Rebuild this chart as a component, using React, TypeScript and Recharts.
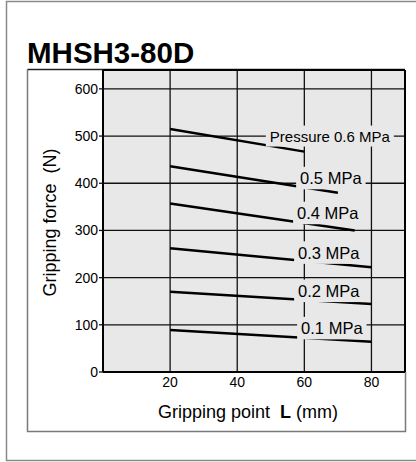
import React from 'react';
import { LineChart, Line, XAxis, YAxis, CartesianGrid, ReferenceDot, ReferenceLine } from 'recharts';

const title = 'MHSH3-80D';
const xTicks = [20, 40, 60, 80];
const yTicks = [0, 100, 200, 300, 400, 500, 600];

const pressureLabels = ['Pressure 0.6 MPa', '0.5 MPa', '0.4 MPa', '0.3 MPa', '0.2 MPa', '0.1 MPa'];
const pointStart = [20, 20, 20, 20, 20, 20];
const pointEnd = [60, 70, 75, 80, 80, 80];
const forceStart = [515, 436, 357, 262, 170, 89];
const forceEnd = [467, 380, 300, 222, 144, 64];
const labelPoint = [67.6, 67.9, 67.0, 67.3, 67.3, 68.2];
const labelForce = [500, 411, 337, 253, 172, 93];

const FONT = '"Liberation Sans", Arial, Helvetica, sans-serif';
const PLOT_BG = '#e8e8e8';

const seriesData = pressureLabels.map((_, i) => [
  { L: pointStart[i], F: forceStart[i] },
  { L: pointEnd[i], F: forceEnd[i] },
]);

const charW: Record<string, number> = {
  '0': 0.556, '1': 0.556, '2': 0.556, '3': 0.556, '4': 0.556, '5': 0.556, '6': 0.556,
  '7': 0.556, '8': 0.556, '9': 0.556, '.': 0.278, ' ': 0.278, M: 0.833, P: 0.667,
  a: 0.556, r: 0.333, e: 0.556, s: 0.5, u: 0.556,
};
const textWidth = (t: string, fs: number) =>
  t.split('').reduce((s, c) => s + (charW[c] ?? 0.556), 0) * fs;

const labelFs = (t: string) => (t.startsWith('Pressure') ? 15 : 16.5);

const makeRect = (text: string) => (props: any) => {
  const { cx, cy } = props;
  const fs = labelFs(text);
  const w = textWidth(text, fs) + 8;
  const h = fs + 6;
  return <rect x={cx - w / 2} y={cy - h / 2} width={w} height={h} fill={PLOT_BG} />;
};

const makeText = (text: string) => (props: any) => {
  const { cx, cy } = props;
  const fs = labelFs(text);
  return (
    <text x={cx} y={cy} textAnchor="middle" dominantBaseline="central" fontSize={fs} fontFamily={FONT} fill="#000">
      {text}
    </text>
  );
};

const YLabel = (props: any) => {
  const vb = props.viewBox || { x: 43, y: 70, width: 60, height: 302 };
  const x = vb.x + 7;
  const y = vb.y + vb.height / 2 + 1.5;
  return (
    <text
      x={x}
      y={y}
      transform={`rotate(-90 ${x} ${y})`}
      textAnchor="middle"
      dominantBaseline="central"
      fontSize={18}
      fontFamily={FONT}
      fill="#000"
      style={{ whiteSpace: 'pre' }}
    >
      {'Gripping force  (N)'}
    </text>
  );
};

const XLabel = (props: any) => {
  const vb = props.viewBox || { x: 103, y: 372, width: 302, height: 40 };
  const x = vb.x + vb.width / 2 - 6;
  const y = vb.y + 46;
  return (
    <text x={x} y={y} textAnchor="middle" fontSize={18} fontFamily={FONT} fill="#000" style={{ whiteSpace: 'pre' }}>
      <tspan>{'Gripping point  '}</tspan>
      <tspan fontWeight="bold">L</tspan>
      <tspan>{' (mm)'}</tspan>
    </text>
  );
};

export default function App() {
  return (
    <div style={{ position: 'fixed', left: 0, top: 0, width: 416, height: 462, background: '#fff', overflow: 'hidden' }}>
      <svg width={416} height={462} style={{ position: 'absolute', left: 0, top: 0 }}>
        <path d="M 420 1.5 L 6.5 1.5 L 6.5 460.5 L 420 460.5" fill="none" stroke="#8a8a8a" strokeWidth={1.5} />
        <path d="M 405.5 372 L 405.5 431.5 L 27.5 431.5 L 27.5 69.5" fill="none" stroke="#7a7a7a" strokeWidth={1.5} />
        <line x1={27.5} y1={69.5} x2={405} y2={69.5} stroke="#222" strokeWidth={1.5} />
        <text x={27} y={63} fontSize={29.5} fontWeight="bold" fontFamily={FONT} fill="#000">
          {title}
        </text>
      </svg>
      <div style={{ position: 'absolute', left: 0, top: 0 }}>
        <LineChart width={416} height={462} margin={{ top: 70, right: 11, bottom: 50, left: 43 }}>
          <CartesianGrid stroke="#111" strokeWidth={1.3} fill={PLOT_BG} fillOpacity={1} />
          <XAxis
            type="number"
            dataKey="L"
            domain={[0, 90]}
            ticks={xTicks}
            tickLine={false}
            tickSize={3}
            tickMargin={2}
            height={40}
            stroke="#000"
            axisLine={{ stroke: '#000', strokeWidth: 2 }}
            tick={{ fontSize: 14, fontFamily: FONT, fill: '#000' }}
            allowDataOverflow
            label={<XLabel />}
          />
          <YAxis
            type="number"
            dataKey="F"
            domain={[0, 640]}
            ticks={yTicks}
            width={60}
            tickSize={4}
            tickMargin={1}
            stroke="#000"
            tickLine={{ stroke: '#111', strokeWidth: 1.3 }}
            axisLine={{ stroke: '#000', strokeWidth: 2 }}
            tick={{ fontSize: 14, fontFamily: FONT, fill: '#000' }}
            allowDataOverflow
            label={<YLabel />}
          />
          <ReferenceLine y={640} stroke="#000" strokeWidth={2} ifOverflow="visible" />
          <ReferenceLine x={90} stroke="#000" strokeWidth={2} ifOverflow="visible" />
          {pressureLabels.map((t, i) => (
            <ReferenceDot
              key={'bg' + i}
              x={labelPoint[i]}
              y={labelForce[i]}
              r={0}
              ifOverflow="visible"
              shape={makeRect(t)}
            />
          ))}
          {pressureLabels.map((t, i) => (
            <Line
              key={'line' + i}
              data={seriesData[i]}
              dataKey="F"
              type="linear"
              stroke="#000"
              strokeWidth={2.5}
              dot={false}
              activeDot={false}
              isAnimationActive={false}
              name={t}
            />
          ))}
          {pressureLabels.map((t, i) => (
            <ReferenceDot
              key={'tx' + i}
              x={labelPoint[i]}
              y={labelForce[i]}
              r={0}
              ifOverflow="visible"
              shape={makeText(t)}
            />
          ))}
        </LineChart>
      </div>
    </div>
  );
}
